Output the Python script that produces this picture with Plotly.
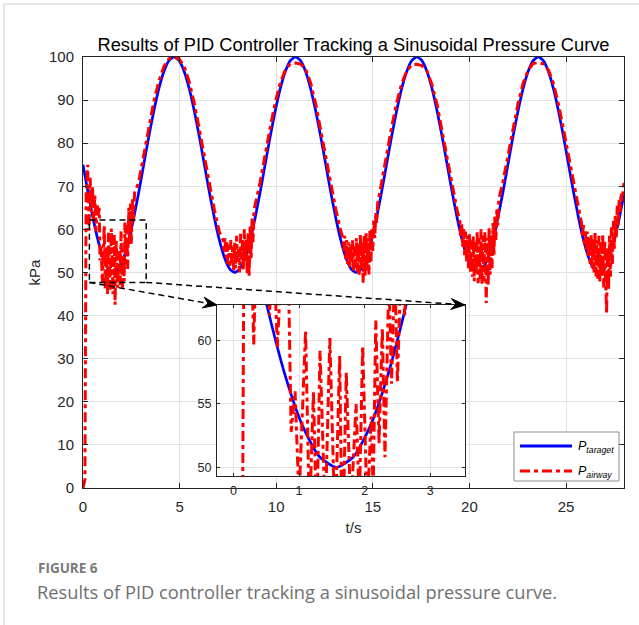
import plotly.graph_objects as go

# ---------------- data ----------------
STEP = 0.2618  # sample spacing of the target curve (s)
blue_p = [
    75.00, 68.53, 62.50, 57.32, 53.35, 50.85, 50.00, 50.85, 53.35, 57.32, 62.50, 68.53,
    75.00, 81.47, 87.50, 92.68, 96.65, 99.15, 100.00, 99.15, 96.65, 92.68, 87.50, 81.47,
    75.00, 68.53, 62.50, 57.32, 53.35, 50.85, 50.00, 50.85, 53.35, 57.32, 62.50, 68.53,
    75.00, 81.47, 87.50, 92.68, 96.65, 99.15, 100.00, 99.15, 96.65, 92.68, 87.50, 81.47,
    75.00, 68.53, 62.50, 57.32, 53.35, 50.85, 50.00, 50.85, 53.35, 57.32, 62.50, 68.53,
    75.00, 81.47, 87.50, 92.68, 96.65, 99.15, 100.00, 99.15, 96.65, 92.68, 87.50, 81.47,
    75.00, 68.53, 62.50, 57.32, 53.35, 50.85, 50.00, 50.85, 53.35, 57.32, 62.50, 68.53,
    75.00, 81.47, 87.50, 92.68, 96.65, 99.15, 100.00, 99.15, 96.65, 92.68, 87.50, 81.47,
    75.00, 68.53, 62.50, 57.32, 53.35, 50.85, 50.00, 50.85, 53.35, 57.32, 62.50,
    68.20,
]
blue_t = [round(i * STEP, 4) for i in range(len(blue_p) - 1)] + [28.0]

red_t = [
    0.00, 0.10, 0.16, 0.24, 0.31, 0.37, 0.43, 0.49, 0.55, 0.61, 0.67, 0.73, 0.79, 0.84, 0.88,
    0.94, 1.00, 1.05, 1.10, 1.16, 1.22, 1.27, 1.32, 1.40, 1.47, 1.55, 1.62, 1.66, 1.72, 1.79,
    1.87, 1.92, 1.97, 2.04, 2.10, 2.13, 2.17, 2.22, 2.27, 2.31, 2.37, 2.41, 2.46, 2.50, 2.56,
    2.61, 2.67,
    2.88, 3.14, 3.40, 3.67, 3.93, 4.19, 4.45, 4.71, 4.97, 5.24, 5.50, 5.76, 6.02, 6.28, 6.55,
    6.81, 7.07,
    7.25, 7.30, 7.35, 7.40, 7.45, 7.50, 7.55, 7.60, 7.65, 7.70, 7.75, 7.80, 7.85, 7.90, 7.95,
    8.00, 8.05, 8.10, 8.15, 8.20, 8.25, 8.30, 8.35, 8.40, 8.45, 8.50, 8.55, 8.60, 8.65, 8.70,
    8.75, 8.80, 8.85,
    9.16, 9.42, 9.69, 9.95, 10.21, 10.47, 10.73, 11.00, 11.26, 11.52, 11.78, 12.04, 12.30,
    12.57, 12.83, 13.09, 13.35,
    13.45, 13.50, 13.55, 13.60, 13.65, 13.70, 13.75, 13.80, 13.85, 13.90, 13.95, 14.00, 14.05,
    14.10, 14.15, 14.20, 14.25, 14.30, 14.35, 14.40, 14.45, 14.50, 14.55, 14.60, 14.65, 14.70,
    14.75, 14.80, 14.85, 14.90, 14.95, 15.00, 15.05, 15.10, 15.15, 15.20, 15.25,
    15.45, 15.71, 15.97, 16.23, 16.49, 16.76, 17.02, 17.28, 17.54, 17.80, 18.06, 18.33, 18.59,
    18.85, 19.11, 19.37,
    19.50, 19.55, 19.60, 19.65, 19.70, 19.75, 19.80, 19.85, 19.90, 19.95, 20.00, 20.05, 20.10,
    20.15, 20.20, 20.25, 20.30, 20.35, 20.40, 20.45, 20.50, 20.55, 20.60, 20.65, 20.70, 20.75,
    20.80, 20.87, 20.92, 20.97, 21.02, 21.07, 21.12, 21.17, 21.22, 21.27, 21.32, 21.37, 21.42,
    21.47, 21.52,
    21.73, 21.99, 22.25, 22.52, 22.78, 23.04, 23.30, 23.56, 23.82, 24.09, 24.35, 24.61, 24.87,
    25.13, 25.40, 25.66,
    25.80, 25.85, 25.90, 25.95, 26.00, 26.05, 26.10, 26.15, 26.20, 26.25, 26.30, 26.35, 26.40,
    26.45, 26.50, 26.55, 26.60, 26.65, 26.70, 26.75, 26.80, 26.85, 26.90, 26.95, 27.00, 27.05,
    27.10, 27.15, 27.20, 27.25, 27.30, 27.35, 27.40, 27.45, 27.50, 27.55, 27.60, 27.65, 27.70,
    27.75, 27.80, 27.85, 27.90, 28.00,
]
red_p = [
    0.0, 2.0, 68.0, 75.0, 59.7, 72.0, 64.0, 70.0, 62.0, 68.0, 59.5, 66.0, 63.5, 65.0, 52.8,
    56.0, 47.5, 55.0, 60.8, 46.0, 56.0, 45.0, 59.2, 46.0, 60.2, 45.0, 58.8, 42.5, 57.5, 46.5,
    55.0, 47.0, 59.6, 46.5, 54.0, 48.0, 61.6, 51.9, 61.0, 50.8, 65.0, 56.6, 66.0, 56.7, 67.0,
    62.0, 68.5,
    71.0, 77.5, 84.0, 89.8, 94.5, 97.8, 99.6, 100.0, 99.6, 97.8, 94.2, 89.3, 83.3, 77.0, 70.3,
    64.3, 59.2,
    57.5, 55.0, 58.0, 53.5, 57.0, 52.0, 56.5, 51.5, 57.5, 52.0, 56.0, 50.5, 57.0, 51.0, 58.5,
    52.0, 55.5, 50.0, 59.0, 53.0, 57.5, 50.5, 60.0, 52.5, 58.0, 49.5, 59.5, 49.0, 61.0, 53.0,
    62.5, 57.0, 64.5,
    70.8, 77.3, 83.7, 89.4, 94.0, 97.0, 98.4, 98.6, 98.4, 97.2, 94.0, 89.2, 83.2,
    77.0, 70.5, 64.5, 59.5,
    58.0, 55.0, 58.5, 53.0, 57.5, 52.0, 57.0, 51.0, 56.5, 52.0, 57.5, 50.5, 56.0,
    51.0, 58.0, 50.0, 56.5, 49.5, 59.0, 51.0, 57.0, 47.5, 58.5, 49.0, 59.5, 50.5,
    58.0, 49.5, 60.0, 52.5, 60.0, 55.0, 62.5, 58.0, 64.0, 61.5, 66.0,
    70.8, 77.3, 83.7, 89.3, 93.8, 96.8, 98.2, 98.3, 98.0, 96.8, 93.6, 88.9, 83.0,
    76.8, 70.4, 64.3,
    62.0, 58.5, 61.5, 56.0, 60.5, 54.0, 59.5, 52.5, 58.5, 51.0, 59.0, 50.0, 57.5,
    49.0, 58.5, 48.0, 57.0, 49.5, 59.5, 47.5, 58.0, 48.5, 60.0, 47.0, 58.5, 48.0,
    59.5, 42.9, 58.0, 47.0, 60.5, 49.5, 59.0, 51.0, 61.5, 54.0, 63.0, 57.5, 65.0,
    61.0, 67.0,
    71.0, 77.3, 83.6, 89.3, 93.9, 97.0, 98.5, 98.7, 98.4, 97.0, 93.8, 89.0, 83.2,
    77.0, 70.5, 64.5,
    61.5, 58.5, 61.0, 56.5, 60.0, 55.0, 59.5, 53.5, 58.5, 52.0, 59.0, 51.0, 58.0,
    50.0, 59.5, 49.0, 57.5, 48.5, 58.5, 47.5, 57.0, 49.0, 59.0, 46.5, 57.5, 48.0,
    40.5, 56.0, 46.0, 58.5, 49.0, 60.5, 52.0, 62.0, 55.5, 63.5, 58.0, 65.5, 61.0,
    67.0, 64.0, 68.5, 66.5, 70.8,
]

x_ticks = [0, 5, 10, 15, 20, 25]
y_ticks = [0, 10, 20, 30, 40, 50, 60, 70, 80, 90, 100]
inset_x_ticks = [0, 1, 2, 3]
inset_y_ticks = [50, 55, 60]
zoom_box = dict(x0=0.33, x1=3.27, y0=47.7, y1=62.2)   # dashed box on main axes
legend_names = ["<i>P</i><sub><i>taraget</i></sub>", "<i>P</i><sub><i>airway</i></sub>"]

# ---------------- geometry / style ----------------
W, H = 639, 625
ML, MR, MT, MB = 83, 15, 57, 137
PW, PH = W - ML - MR, H - MT - MB
XR = [0, 28]
YR = [0, 100]


def xp(px):
    return (px - ML) / PW


def yp(py):
    return (H - MB - py) / PH


def data_px(x, y):
    return ML + (x - XR[0]) / (XR[1] - XR[0]) * PW, MT + (1 - (y - YR[0]) / (YR[1] - YR[0])) * PH


inset_dom_x = [xp(217), xp(465)]
inset_dom_y = [yp(476), yp(305)]
INSET_XR = [-0.25, 3.53]
INSET_YR = [49.31, 62.82]

FONT = "Liberation Sans, Arial, sans-serif"
CAP_FONT = "Open Sans, Noto Sans, sans-serif"
AX_COL = "#262626"
GRID = "#e3e3e3"

blue_line = dict(color="#0000ff", width=2.7, shape="spline", smoothing=0.6)
red_line = dict(color="#ff0000", width=3, dash="10px,4px,4px,4px")

fig = go.Figure()
fig.add_trace(go.Scatter(x=blue_t, y=blue_p, mode="lines", line=blue_line,
                         name=legend_names[0], showlegend=False))
fig.add_trace(go.Scatter(x=red_t, y=red_p, mode="lines", line=red_line,
                         name=legend_names[1], showlegend=False))
fig.add_trace(go.Scatter(x=blue_t, y=blue_p, mode="lines", line=blue_line,
                         xaxis="x2", yaxis="y2", showlegend=False))
fig.add_trace(go.Scatter(x=red_t, y=red_p, mode="lines", line=red_line,
                         xaxis="x2", yaxis="y2", showlegend=False))

axis_common = dict(showline=True, linecolor=AX_COL, linewidth=1, mirror="ticks",
                   ticks="inside", tickcolor=AX_COL, showgrid=True, gridcolor=GRID,
                   gridwidth=1, zeroline=False)

fig.update_layout(
    width=W, height=H,
    margin=dict(l=ML, r=MR, t=MT, b=MB, autoexpand=False),
    paper_bgcolor="white", plot_bgcolor="white",
    font=dict(family=FONT, color=AX_COL),
    title=dict(text="Results of PID Controller Tracking a Sinusoidal Pressure Curve",
               x=0.5, xref="paper", xanchor="center",
               y=1 - 45 / H, yref="container", yanchor="middle",
               font=dict(family=FONT, size=18.3, color="black")),
    xaxis=dict(range=XR, tickvals=x_ticks, ticklen=5, tickfont=dict(size=15),
               ticklabelstandoff=5,
               title=dict(text="t/s", font=dict(size=15), standoff=8), **axis_common),
    yaxis=dict(range=YR, tickvals=y_ticks, ticklen=5, tickfont=dict(size=15),
               ticklabelstandoff=5,
               title=dict(text="kPa", font=dict(size=15), standoff=4), **axis_common),
    xaxis2=dict(domain=inset_dom_x, anchor="y2", range=INSET_XR, tickvals=inset_x_ticks,
                ticklen=3, tickfont=dict(size=12.5), ticklabelstandoff=3, **axis_common),
    yaxis2=dict(domain=inset_dom_y, anchor="x2", range=INSET_YR, tickvals=inset_y_ticks,
                ticklen=3, tickfont=dict(size=12.5), ticklabelstandoff=2, **axis_common),
    showlegend=False,
)

# dashed zoom box and connector lines with arrowheads
corner_tl = (inset_dom_x[0] * XR[1], inset_dom_y[1] * YR[1])
corner_tr = (inset_dom_x[1] * XR[1], inset_dom_y[1] * YR[1])
dash_line = dict(color="black", width=1.5, dash="6px,4px")
fig.add_shape(type="rect", xref="x", yref="y", line=dash_line, **zoom_box)
connectors = [((zoom_box["x0"], zoom_box["y0"]), corner_tl),
              ((zoom_box["x1"], zoom_box["y0"]), corner_tr)]
AL, AW = 14.0, 11.0   # arrowhead length / width in px
for (sx, sy), (ex, ey) in connectors:
    fig.add_shape(type="line", xref="x", yref="y", line=dash_line,
                  x0=sx, y0=sy, x1=ex, y1=ey)
    p0 = data_px(sx, sy)
    p1 = data_px(ex, ey)
    dx, dy = p1[0] - p0[0], p1[1] - p0[1]
    n = (dx * dx + dy * dy) ** 0.5
    ux, uy = dx / n, dy / n
    nx, ny = -uy, ux
    pts = [
        (p1[0], p1[1]),
        (p1[0] - AL * ux + AW / 2 * nx, p1[1] - AL * uy + AW / 2 * ny),
        (p1[0] - 0.65 * AL * ux, p1[1] - 0.65 * AL * uy),
        (p1[0] - AL * ux - AW / 2 * nx, p1[1] - AL * uy - AW / 2 * ny),
    ]
    path = "M" + " L".join(f"{xp(a):.5f},{yp(b):.5f}" for a, b in pts) + " Z"
    fig.add_shape(type="path", xref="paper", yref="paper", path=path,
                  fillcolor="black", line=dict(color="black", width=1))

# legend box (drawn by hand to match the reference layout)
fig.add_shape(type="rect", xref="paper", yref="paper",
              x0=xp(514), x1=xp(619), y0=yp(481), y1=yp(432),
              fillcolor="white", line=dict(color="#8c8c8c", width=1))
for row_y, ln, name in [(446, blue_line, legend_names[0]), (471, red_line, legend_names[1])]:
    style = dict(color=ln["color"], width=2.8)
    if "dash" in ln:
        style["dash"] = ln["dash"]
    fig.add_shape(type="line", xref="paper", yref="paper", line=style,
                  x0=xp(520), x1=xp(572), y0=yp(row_y), y1=yp(row_y))
    fig.add_annotation(x=xp(576), y=yp(row_y + 1), xref="paper", yref="paper",
                       showarrow=False, xanchor="left", yanchor="middle", text=name,
                       font=dict(family=FONT, size=12.5, color="black"))

# light frame and caption
frame = dict(color="#cfcfcf", width=1)
fig.add_shape(type="line", xref="paper", yref="paper", line=frame,
              x0=xp(4), y0=yp(4), x1=xp(4), y1=yp(H + 5))
fig.add_shape(type="line", xref="paper", yref="paper", line=frame,
              x0=xp(4), y0=yp(4), x1=xp(W + 5), y1=yp(4))
fig.add_annotation(
    x=xp(36.5), y=yp(568), xref="paper", yref="paper", showarrow=False,
    xanchor="left", yanchor="middle", borderpad=0, text="<b>FIGURE 6</b>",
    font=dict(family=CAP_FONT, size=13.5, color="#7a7a7a"))
fig.add_annotation(
    x=xp(36), y=yp(591), xref="paper", yref="paper", showarrow=False,
    xanchor="left", yanchor="middle", borderpad=0,
    text="Results of PID controller tracking a sinusoidal pressure curve.",
    font=dict(family=CAP_FONT, size=18.3, color="#707070"))

fig.write_html("out.html", config={"displayModeBar": False},
               post_script="document.body.style.margin='0px';")
